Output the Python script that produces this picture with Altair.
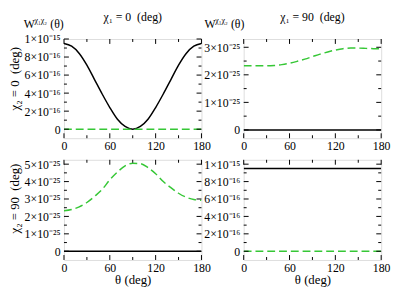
import altair as alt
import pandas as pd

FONT = "Liberation Serif, Times New Roman, serif"
GREEN = "#36c736"

# ---------------- data ----------------
theta = [0, 10, 20, 30, 40, 50, 60, 70, 80, 90, 100, 110, 120, 130, 140, 150, 160, 170, 180]
theta_flat = [0, 180]

# chi1 = 0, chi2 = 0
tl_solid = [9.5e-16, 9.2e-16, 8.4e-16, 7.1e-16, 5.5e-16, 3.9e-16, 2.4e-16, 1.1e-16, 0.3e-16, 0.0,
            0.3e-16, 1.1e-16, 2.4e-16, 3.9e-16, 5.5e-16, 7.1e-16, 8.4e-16, 9.2e-16, 9.5e-16]
tl_dashed = [0.0, 0.0]
# chi1 = 90, chi2 = 0
tr_solid = [0.0, 0.0]
tr_dashed = [2.33e-25, 2.33e-25, 2.33e-25, 2.33e-25, 2.34e-25, 2.37e-25, 2.42e-25, 2.49e-25, 2.57e-25, 2.66e-25,
             2.75e-25, 2.83e-25, 2.90e-25, 2.95e-25, 2.97e-25, 2.97e-25, 2.96e-25, 2.95e-25, 2.94e-25]
# chi1 = 0, chi2 = 90
bl_solid = [0.0, 0.0]
bl_dashed = [2.33e-25, 2.40e-25, 2.55e-25, 2.80e-25, 3.15e-25, 3.55e-25, 4.10e-25, 4.55e-25, 4.90e-25, 5.05e-25,
             5.03e-25, 4.80e-25, 4.45e-25, 4.00e-25, 3.65e-25, 3.33e-25, 3.10e-25, 2.97e-25, 2.93e-25]
# chi1 = 90, chi2 = 90
br_solid = [9.5e-16, 9.5e-16]
br_dashed = [0.0, 0.0]

x_major = [0, 60, 120, 180]
x_minor = [30, 90, 150]

y16_major = [0, 2e-16, 4e-16, 6e-16, 8e-16, 1e-15]
y16_minor = [1e-16, 3e-16, 5e-16, 7e-16, 9e-16]
y16_labels = ["0", "2×10⁻¹⁶", "4×10⁻¹⁶", "6×10⁻¹⁶", "8×10⁻¹⁶", "1×10⁻¹⁵"]

ytr_major = [0, 1e-25, 2e-25, 3e-25]
ytr_minor = [0.5e-25, 1.5e-25, 2.5e-25]
ytr_labels = ["0", "1×10⁻²⁵", "2×10⁻²⁵", "3×10⁻²⁵"]

ybl_major = [0, 1e-25, 2e-25, 3e-25, 4e-25, 5e-25]
ybl_minor = [0.5e-25, 1.5e-25, 2.5e-25, 3.5e-25, 4.5e-25]
ybl_labels = ["0", "1×10⁻²⁵", "2×10⁻²⁵", "3×10⁻²⁵", "4×10⁻²⁵", "5×10⁻²⁵"]

col_titles = ["χ₁ = 0\u00a0\u00a0(deg)", "χ₁ = 90\u00a0\u00a0(deg)"]
row_titles = ["χ₂ = 0\u00a0\u00a0(deg)", "χ₂ = 90\u00a0\u00a0(deg)"]
x_title = "θ (deg)"

PW = 140
H_TOP = 101
H_BOT = 102


def label_expr(labels, step):
    arr = ",".join("'" + s + "'" for s in labels)
    return "[" + arr + "][round(datum.value / " + repr(step) + ")]"


def panel(xs_solid, ys_solid, xs_dash, ys_dash, ydom, ymaj, ymin, ylabels, ystep, h,
          ytitle=None, ytitle_y=None, xtitle=None, ctitle=None, wlabel_x=None):
    xsc = alt.Scale(domain=[0, 180], nice=False, zero=False)
    ysc = alt.Scale(domain=ydom, nice=False, zero=False)
    xaxis = alt.Axis(values=x_major, format="d", ticks=False, domain=False, grid=False,
                     labelFont=FONT, labelFontSize=12, labelColor="black", labelPadding=3,
                     labelFlush=False, labelOverlap=False,
                     title=xtitle if xtitle else None,
                     titleFont=FONT, titleFontSize=13, titleFontWeight="normal",
                     titleColor="black", titlePadding=0)
    ykw = dict(values=ymaj, ticks=False, domain=False, grid=False,
               labelFont=FONT, labelFontSize=12, labelColor="black", labelPadding=4,
               labelFlush=False, labelOverlap=False, labelExpr=label_expr(ylabels, ystep),
               titleFont=FONT, titleFontSize=13, titleFontWeight="normal",
               titleColor="black", titlePadding=1)
    if ytitle:
        yaxis = alt.Axis(title=ytitle, titleX=-43, titleY=ytitle_y, **ykw)
    else:
        yaxis = alt.Axis(title=None, **ykw)

    def X(f):
        return alt.X(f, scale=xsc, axis=xaxis)

    def Y(f):
        return alt.Y(f, scale=ysc, axis=yaxis)

    solid = alt.Chart(pd.DataFrame({"t": xs_solid, "w": ys_solid})).mark_line(
        color="black", strokeWidth=1.5, interpolate="monotone", clip=True
    ).encode(x=X("t:Q"), y=Y("w:Q"))
    dash = alt.Chart(pd.DataFrame({"t": xs_dash, "w": ys_dash})).mark_line(
        color=GREEN, strokeWidth=1.5, strokeDash=[8, 4], interpolate="monotone", clip=True
    ).encode(x=X("t:Q"), y=Y("w:Q"))

    layers = [solid, dash]
    for vals, size in ((x_major, 5), (x_minor, 3)):
        base = alt.Chart(pd.DataFrame({"t": vals})).mark_rule(color="black", strokeWidth=1)
        layers.append(base.encode(x=X("t:Q"), y=alt.value(h), y2=alt.value(h - size)))
        layers.append(base.encode(x=X("t:Q"), y=alt.value(0), y2=alt.value(size)))
    for vals, size in ((ymaj, 5), (ymin, 3)):
        base = alt.Chart(pd.DataFrame({"w": vals})).mark_rule(color="black", strokeWidth=1)
        layers.append(base.encode(y=Y("w:Q"), x=alt.value(0), x2=alt.value(size)))
        layers.append(base.encode(y=Y("w:Q"), x=alt.value(PW), x2=alt.value(PW - size)))

    if wlabel_x is not None:
        one = alt.Data(values=[{"a": 1}])
        layers.append(alt.Chart(one).mark_text(text="W", font=FONT, fontSize=12, align="left",
                                               baseline="alphabetic", color="black")
                      .encode(x=alt.value(wlabel_x), y=alt.value(-11)))
        layers.append(alt.Chart(one).mark_text(text="χ₁χ₂", font=FONT, fontSize=8, align="left",
                                               baseline="alphabetic", color="black")
                      .encode(x=alt.value(wlabel_x + 11), y=alt.value(-16)))
        layers.append(alt.Chart(one).mark_text(text="(θ)", font=FONT, fontSize=12, align="left",
                                               baseline="alphabetic", color="black")
                      .encode(x=alt.value(wlabel_x + 27), y=alt.value(-11)))

    ch = alt.layer(*layers).properties(width=PW, height=h)
    if ctitle:
        ch = ch.properties(title=alt.TitleParams(ctitle, font=FONT, fontSize=12, fontWeight="normal",
                                                 color="black", anchor="middle", offset=-7))
    return ch


tl = panel(theta, tl_solid, theta_flat, tl_dashed, [-1e-16, 1.0e-15], y16_major, y16_minor, y16_labels, 2e-16,
           H_TOP, ytitle=row_titles[0], ytitle_y=40, ctitle=col_titles[0], wlabel_x=-41)
tr = panel(theta_flat, tr_solid, theta, tr_dashed, [-0.3e-25, 3.3e-25], ytr_major, ytr_minor, ytr_labels, 1e-25,
           H_TOP, ctitle=col_titles[1], wlabel_x=-40)
bl = panel(theta_flat, bl_solid, theta, bl_dashed, [-0.5e-25, 5.25e-25], ybl_major, ybl_minor, ybl_labels, 1e-25,
           H_BOT, ytitle=row_titles[1], ytitle_y=39, xtitle=x_title)
br = panel(theta_flat, br_solid, theta_flat, br_dashed, [-1e-16, 1.05e-15], y16_major, y16_minor, y16_labels, 2e-16,
           H_BOT, xtitle=x_title)

chart = alt.concat(tl, tr, bl, br, columns=2, spacing=alt.RowColnumber(row=22, column=43),
                   bounds="flush", align="each").properties(
    padding={"left": 0, "top": 0, "right": 0, "bottom": 0}
).configure_view(stroke="black", strokeWidth=1).configure(background="white", font=FONT)

chart.save("out.html", embed_options={"renderer": "svg", "actions": False})
